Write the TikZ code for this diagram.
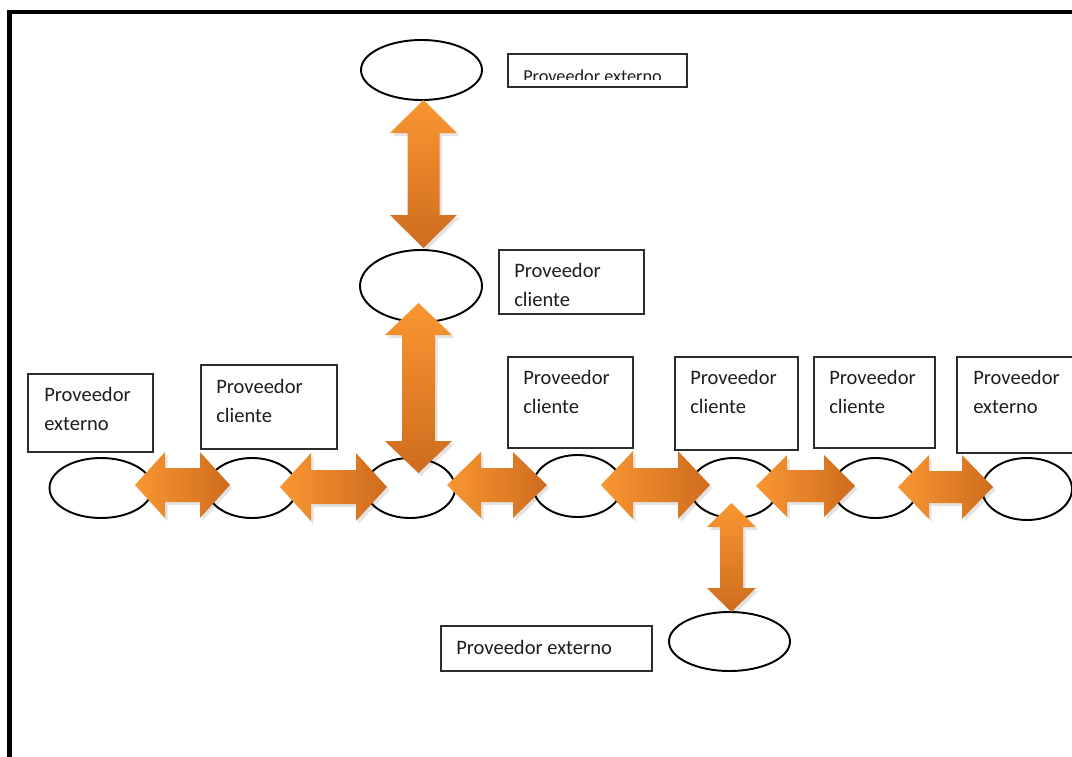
\documentclass[tikz,border=0pt]{standalone}
\usepackage{fontspec}
\setmainfont{Carlito}
\usetikzlibrary{shapes.geometric}

\definecolor{arrlight}{RGB}{249,150,50}
\definecolor{arrmid}{RGB}{238,137,42}
\definecolor{arrdark}{RGB}{206,108,30}
\definecolor{boxline}{RGB}{45,45,45}
\definecolor{txt}{RGB}{30,30,30}

\tikzset{
  ell/.style={ellipse, draw=black, line width=1.45pt, inner sep=0pt, outer sep=0pt},
  box/.style={rectangle, draw=boxline, line width=0.9pt, fill=white, inner sep=0pt, outer sep=0pt, anchor=north west},
  lbl/.style={anchor=base west, inner sep=0pt, text=txt, font=\fontsize{15.4}{18}\selectfont},
  arrshadow/.style={fill=black, opacity=.11, shift={(2.5,3)}},
  arrhfill/.style={left color=arrlight, middle color=arrmid, right color=arrdark},
  arrvfill/.style={top color=arrlight, middle color=arrmid, bottom color=arrdark},
}

% ellipse node: name, cx, cy, width, height (pixel units)
\newcommand\ellnode[5]{\node[ell, minimum width={#4*0.75pt}, minimum height={#5*0.75pt}] (#1) at (#2,#3) {};}
% box node: name, x1, y1, x2, y2
\newcommand\boxnode[5]{\node[box, minimum width={(#4-#2)*0.75pt}, minimum height={(#5-#3)*0.75pt}] (#1) at (#2,#3) {};}
% horizontal block double arrow: x1, x2, yc, head half-height, shaft half-height, head length
\newcommand\harrow[6]{%
  \foreach \sty in {arrshadow,arrhfill}{%
    \path[\sty] (#1,#3) -- ({#1+#6},{#3-#4}) -- ({#1+#6},{#3-#5}) -- ({#2-#6},{#3-#5})
      -- ({#2-#6},{#3-#4}) -- (#2,#3) -- ({#2-#6},{#3+#4}) -- ({#2-#6},{#3+#5})
      -- ({#1+#6},{#3+#5}) -- ({#1+#6},{#3+#4}) -- cycle;}}
% vertical block double arrow: y1, y2, xc, head half-width, shaft half-width, head length
\newcommand\varrow[6]{%
  \foreach \sty in {arrshadow,arrvfill}{%
    \path[\sty] (#3,#1) -- ({#3+#4},{#1+#6}) -- ({#3+#5},{#1+#6}) -- ({#3+#5},{#2-#6})
      -- ({#3+#4},{#2-#6}) -- (#3,#2) -- ({#3-#4},{#2-#6}) -- ({#3-#5},{#2-#6})
      -- ({#3-#5},{#1+#6}) -- ({#3-#4},{#1+#6}) -- cycle;}}

\begin{document}
\begin{tikzpicture}[x=0.75pt, y=-0.75pt]
  \useasboundingbox (0,0) rectangle (1072,757);
  \clip (0,0) rectangle (1072,757);
  \fill[white] (0,0) rectangle (1072,757);

  % outer frame (left and top edges)
  \draw[line width=3.6pt, line join=miter] (9.5,765) -- (9.5,12) -- (1080,12);

  % chain of actors
  \ellnode{e1}{101}{488}{103}{60}
  \ellnode{e2}{252}{488}{90}{60}
  \ellnode{e3}{410}{488}{90}{60}
  \ellnode{e4}{577.5}{486}{89}{62}
  \ellnode{e5}{734}{488}{88}{60}
  \ellnode{e6}{875.5}{488}{85}{60}
  \ellnode{e7}{1027}{489}{90}{62}
  \ellnode{t1}{421.5}{70}{121}{60}
  \ellnode{t2}{421}{286}{122}{72}
  \ellnode{b1}{729.5}{641.5}{121}{59}

  % label boxes
  \boxnode{bx1}{28}{374}{153}{452}
  \boxnode{bx2}{201}{365}{337}{449}
  \boxnode{bx3}{508}{357}{633}{448}
  \boxnode{bx4}{675}{357}{798}{450}
  \boxnode{bx5}{814}{357}{935}{448}
  \boxnode{bx6}{957}{357}{1085}{453}
  \boxnode{bxt}{508}{54}{687}{87}
  \boxnode{bxc}{499}{250}{644}{314}
  \boxnode{bxb}{441}{626}{652}{671}

  % box texts
  \node[lbl] (l1a) at (44,401) {Proveedor};
  \node[lbl] (l1b) at (44,430) {externo};
  \node[lbl] (l2a) at (216,393) {Proveedor};
  \node[lbl] (l2b) at (216,422) {cliente};
  \node[lbl] (l3a) at (523,384) {Proveedor};
  \node[lbl] (l3b) at (523,413) {cliente};
  \node[lbl] (l4a) at (690,384) {Proveedor};
  \node[lbl] (l4b) at (690,413) {cliente};
  \node[lbl] (l5a) at (829,384) {Proveedor};
  \node[lbl] (l5b) at (829,413) {cliente};
  \node[lbl] (l6a) at (973,384) {Proveedor};
  \node[lbl] (l6b) at (973,413) {externo};
  \node[lbl] (lca) at (514,277) {Proveedor};
  \node[lbl] (lcb) at (514,306) {cliente};
  \node[lbl] (lb) at (456,654) {Proveedor externo};
  \begin{scope}
    \clip (508,54) rectangle (687,79);
    \node[lbl, font=\fontsize{13.7}{16}\selectfont] (lt) at (523,82) {Proveedor externo};
  \end{scope}

  % two-way exchange arrows along the chain
  \harrow{135}{230}{485}{33}{17}{30}
  \harrow{280}{387}{487}{34}{17}{31}
  \harrow{447}{547}{485}{33}{17}{34}
  \harrow{601}{710}{485}{34}{17}{32}
  \harrow{756}{855}{486}{31}{16}{31}
  \harrow{898}{993}{487}{32}{16}{31}

  % vertical exchange arrows
  \varrow{100}{248}{423.5}{33.5}{16}{33}
  \varrow{303}{473}{418.5}{33.5}{16.5}{32}
  \varrow{503}{612}{731.5}{24.5}{11.5}{24}
\end{tikzpicture}
\end{document}
